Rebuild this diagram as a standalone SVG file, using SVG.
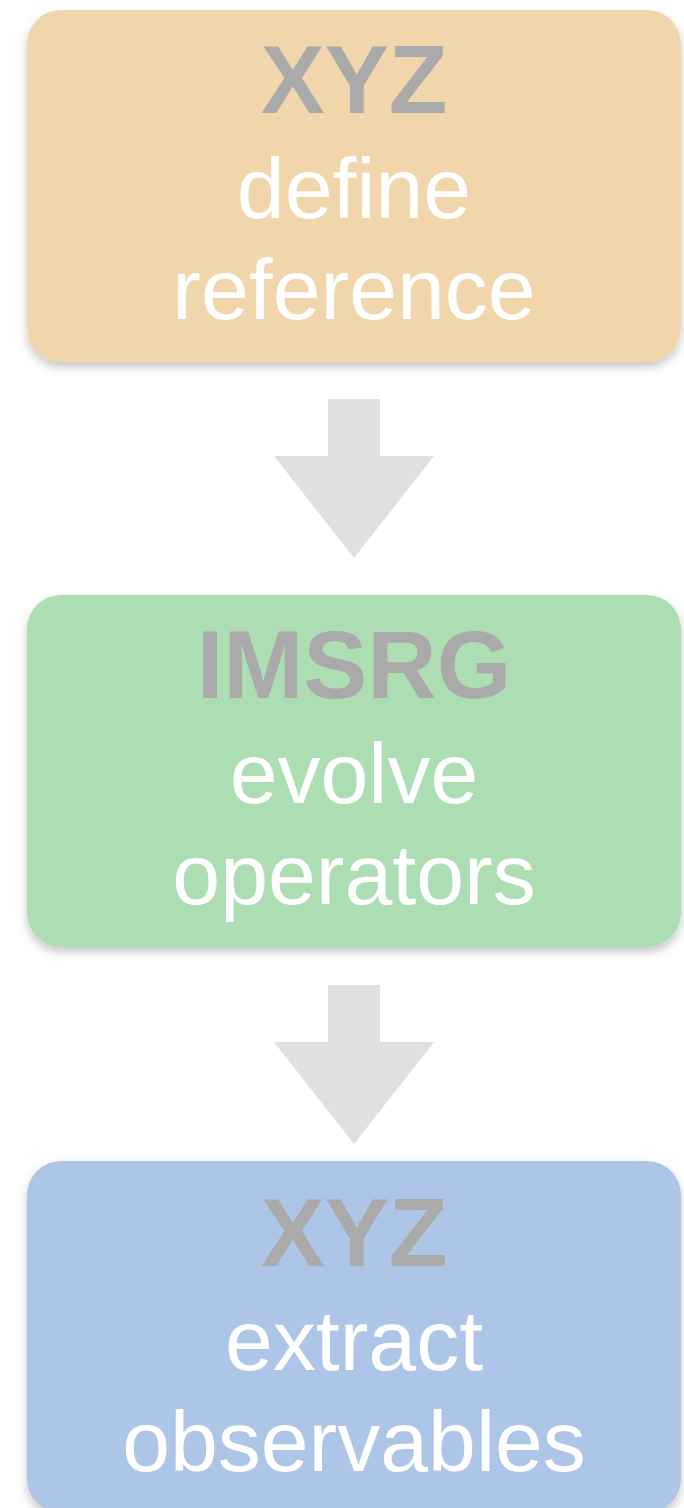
<svg xmlns="http://www.w3.org/2000/svg" width="684" height="1508" viewBox="0 0 684 1508">
<style>
.box{filter:url(#sh)}
.t1{font-family:"Liberation Sans",Arial,sans-serif;font-weight:bold;font-size:96px;fill:#aaaaaa;text-anchor:middle}
.t2{font-family:"Liberation Sans",Arial,sans-serif;font-size:86px;fill:#ffffff;text-anchor:middle}
.arr{fill:#e0e0e0}
</style>
<defs>
<filter id="sh" x="-10%" y="-10%" width="120%" height="130%">
<feDropShadow dx="0" dy="5" stdDeviation="5" flood-color="#000" flood-opacity="0.22"/>
</filter>
</defs>
<rect width="684" height="1508" fill="#ffffff"/>
<g id="connectors">
<polygon class="arr" points="328,399 380,399 380,456 434,456 354,558 274,456 328,456"/>
<polygon class="arr" points="328,985 380,985 380,1042 434,1042 354,1144 274,1042 328,1042"/>
</g>
<g id="node-xyz-define">
<rect class="box" x="27" y="10" width="654" height="352" rx="34" fill="#f2d6ab"/>
<text class="t1" x="354" y="113">XYZ</text>
<text class="t2" x="354" y="218">define</text>
<text class="t2" x="354" y="319">reference</text>
</g>
<g id="node-imsrg">
<rect class="box" x="27" y="595" width="654" height="352" rx="34" fill="#addeb3"/>
<text class="t1" x="354" y="698">IMSRG</text>
<text class="t2" x="354" y="803">evolve</text>
<text class="t2" x="354" y="904">operators</text>
</g>
<g id="node-xyz-extract">
<rect class="box" x="27" y="1161" width="654" height="352" rx="34" fill="#adc5e6"/>
<text class="t1" x="354" y="1266">XYZ</text>
<text class="t2" x="354" y="1370">extract</text>
<text class="t2" x="354" y="1471">observables</text>
</g>
</svg>
